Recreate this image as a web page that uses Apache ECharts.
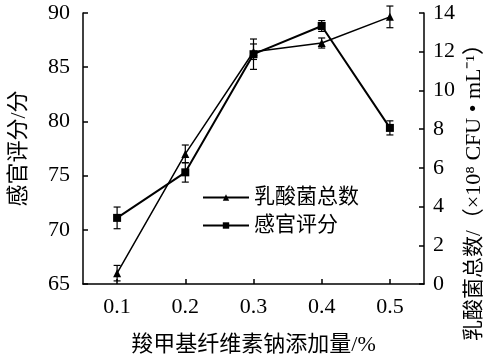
<!DOCTYPE html>
<html><head><meta charset="utf-8">
<script src="https://cdn.jsdelivr.net/npm/echarts@6/dist/echarts.min.js"></script>
<style>html,body{margin:0;padding:0;background:#fff}#c{width:492px;height:361px}</style>
</head><body><div id="c"></div>
<script>
// ---- data ----
const categories = ['0.1', '0.2', '0.3', '0.4', '0.5'];
const sensoryScore = [71.1, 75.3, 86.2, 88.8, 79.4];
const sensoryErr = [1.0, 0.9, 1.4, 0.5, 0.65];
const lacticCount = [0.56, 6.72, 12.0, 12.45, 13.8];
const lacticErr = [0.4, 0.46, 0.4, 0.26, 0.56];
const leftAxisRange = [65, 90, 5];
const rightAxisRange = [0, 14, 2];
const xTitle = '羧甲基纤维素钠添加量/%';
const leftTitle = '感官评分/分';
const rightTitleCJK = '乳酸菌总数/';
const rightTitleUnit = '（×10⁸ CFU • mL⁻¹）';
const seriesNames = ['乳酸菌总数', '感官评分'];

const FONT = "'Liberation Serif','Times New Roman','Noto Sans CJK SC',serif";
const chart = echarts.init(document.getElementById('c'), null, {renderer: 'canvas'});

function errRender(params, api) {
  const x = api.value(0), lo = api.value(1), hi = api.value(2);
  const p1 = api.coord([x, hi]), p2 = api.coord([x, lo]);
  const w = 3.5;
  const st = {stroke: '#000', lineWidth: 1.2};
  return {type: 'group', children: [
    {type: 'line', shape: {x1: p1[0], y1: p1[1], x2: p2[0], y2: p2[1]}, style: st},
    {type: 'line', shape: {x1: p1[0] - w, y1: p1[1], x2: p1[0] + w, y2: p1[1]}, style: st},
    {type: 'line', shape: {x1: p2[0] - w, y1: p2[1], x2: p2[0] + w, y2: p2[1]}, style: st}
  ]};
}
const errData = (vals, errs) => vals.map((v, i) => [i, v - errs[i], v + errs[i]]);

const axisCommon = {
  axisLine: {show: true, lineStyle: {color: '#000', width: 1.5}},
  axisTick: {show: true, inside: true, length: 5, lineStyle: {color: '#000', width: 1.5}},
  splitLine: {show: false},
  axisLabel: {color: '#000', fontFamily: FONT, fontSize: 22},
  nameTextStyle: {color: '#000', fontFamily: FONT, fontSize: 22}
};

chart.setOption({
  animation: false,
  backgroundColor: '#fff',
  grid: {left: 71, right: 68, top: 13, bottom: 75, containLabel: false},
  legend: {
    data: seriesNames, orient: 'vertical', left: 197, top: 182,
    itemWidth: 46, itemHeight: 8, itemGap: 7,
    textStyle: {color: '#000', fontFamily: FONT, fontSize: 21}
  },
  xAxis: Object.assign({}, axisCommon, {
    type: 'category', data: categories, boundaryGap: true,
    axisTick: {show: true, inside: true, alignWithLabel: true, length: 5, lineStyle: {color: '#000', width: 1.5}},
    axisLabel: Object.assign({}, axisCommon.axisLabel, {margin: 12}),
    name: xTitle, nameLocation: 'middle', nameGap: 50
  }),
  yAxis: [
    Object.assign({}, axisCommon, {
      type: 'value', position: 'left', min: leftAxisRange[0], max: leftAxisRange[1], interval: leftAxisRange[2],
      axisLabel: Object.assign({}, axisCommon.axisLabel, {margin: 13}),
      name: leftTitle, nameLocation: 'middle', nameRotate: 90, nameGap: 53
    }),
    Object.assign({}, axisCommon, {
      type: 'value', position: 'right', min: rightAxisRange[0], max: rightAxisRange[1], interval: rightAxisRange[2],
      axisLabel: Object.assign({}, axisCommon.axisLabel, {margin: 9})
    })
  ],
  graphic: [{
    type: 'text', x: 474, y: 187, rotation: Math.PI / 2,
    style: {
      text: '{a|' + rightTitleCJK + '}{b|' + rightTitleUnit + '}',
      fill: '#000', align: 'center', verticalAlign: 'middle',
      rich: {
        a: {fontSize: 21, fontFamily: FONT, fill: '#000'},
        b: {fontSize: 22, fontFamily: FONT, fill: '#000'}
      }
    }
  }],
  series: [
    {
      name: seriesNames[0], type: 'line', yAxisIndex: 1, data: lacticCount,
      symbol: 'triangle', symbolSize: 8, color: '#000',
      lineStyle: {color: '#000', width: 1.5}, itemStyle: {color: '#000'}
    },
    {
      name: seriesNames[1], type: 'line', yAxisIndex: 0, data: sensoryScore,
      symbol: 'rect', symbolSize: 8, color: '#000',
      lineStyle: {color: '#000', width: 2}, itemStyle: {color: '#000'}
    },
    {type: 'custom', yAxisIndex: 1, data: errData(lacticCount, lacticErr), renderItem: errRender, clip: false, z: 3},
    {type: 'custom', yAxisIndex: 0, data: errData(sensoryScore, sensoryErr), renderItem: errRender, clip: false, z: 3}
  ]
});
</script></body></html>
